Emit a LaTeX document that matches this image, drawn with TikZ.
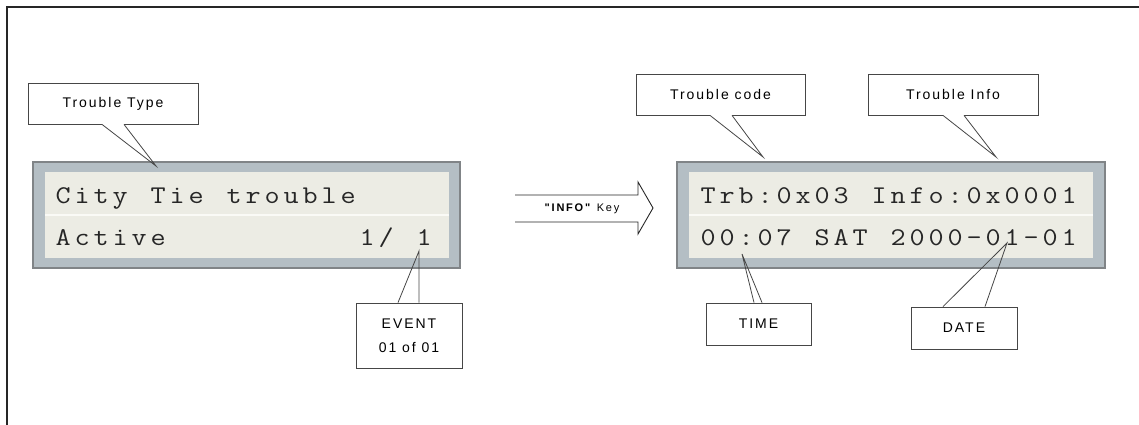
\documentclass[tikz,border=0pt]{standalone}
\usepackage{fontspec}
\newfontfamily\lcdfont[FakeStretch=1.15]{Latin Modern Mono}
\newfontfamily\tagfont[LetterSpace=14]{Liberation Sans}
\newfontfamily\keyfont[LetterSpace=16]{Liberation Sans}
\definecolor{lcdgray}{RGB}{180,190,196}
\definecolor{lcdedge}{RGB}{128,132,135}
\definecolor{lcdback}{RGB}{236,236,228}
\definecolor{lcdrule}{RGB}{250,250,246}
\definecolor{tagedge}{RGB}{70,70,70}

% one display character per fixed cell, ~ for a blank cell
\newcommand\lcdcells[1]{\lcdloop#1\relax}
\def\lcdloop#1{\ifx#1\relax\else\makebox[19pt]{#1}\expandafter\lcdloop\fi}

% pointer of a callout: node, anchor, left/right offset, tip
\newcommand\tagpointer[5]{%
  \draw[white, line width=1.6pt] ([xshift=#3pt]#1.#2) -- ([xshift=#4pt]#1.#2);
  \draw[tagline] ([xshift=#3pt]#1.#2) -- (#5) -- ([xshift=#4pt]#1.#2);
}

\begin{document}
\begin{tikzpicture}[x=1pt,y=-1pt,
  frameline/.style={line width=1.6pt, black!85},
  lcdframe/.style={draw=lcdedge, fill=lcdgray, line width=1.2pt, inner sep=0pt},
  lcdscreen/.style={fill=lcdback, inner sep=0pt},
  lcdrow/.style={anchor=base west, inner sep=0pt, text=black!85,
    font=\lcdfont\fontsize{25.5}{26}\selectfont},
  tagbox/.style={draw=tagedge, line width=0.8pt, inner sep=0pt, align=center,
    font=\tagfont\fontsize{14}{24}\selectfont},
  tagline/.style={draw=tagedge, line width=0.8pt, line join=miter},
  keyarrow/.style={draw=black!85, line width=0.9pt, line join=miter},
]
\useasboundingbox (0,0) rectangle (1139,425);

% outer frame
\draw[frameline] (1150,7) -| (7,435);

% displays
\node[lcdframe, minimum width=427pt, minimum height=106pt] (lcdA) at (246.5,215) {};
\node[lcdscreen, minimum width=404pt, minimum height=86pt] (scrA) at (247,215) {};
\draw[lcdrule, line width=1.2pt] (scrA.west) -- (scrA.east);

\node[lcdframe, minimum width=428pt, minimum height=106pt] (lcdB) at (891,215) {};
\node[lcdscreen, minimum width=404pt, minimum height=86pt] (scrB) at (891,215) {};
\draw[lcdrule, line width=1.2pt] (scrB.west) -- (scrB.east);

\node[lcdrow] (rowA1) at (53.5,203) {\lcdcells{City~Tie~trouble}};
\node[lcdrow] (rowA2) at (53.5,245) {\lcdcells{Active~~~~~~~~~~1/~1}};
\node[lcdrow] (rowB1) at (698.5,203) {\lcdcells{Trb:0x03~Info:0x0001}};
\node[lcdrow] (rowB2) at (698.5,245) {\lcdcells{00:07~SAT~2000-01-01}};

% key arrow
\draw[keyarrow] (515,195) -- (638,195) -- (638,182) -- (653,208)
  -- (638,234) -- (638,222) -- (515,222);
\node[inner sep=0pt, font=\keyfont\fontsize{11}{12}\selectfont] (infokey) at (582,209)
  {\textbf{"INFO"} Key};

% callouts
\coordinate (ptType) at (156,166);
\coordinate (ptCode) at (763,157);
\coordinate (ptInfo) at (996,157);
\coordinate (ptEvent) at (419,251);
\coordinate (ptTime) at (742,254);
\coordinate (ptDate) at (1007,243);

\node[tagbox, minimum width=170pt, minimum height=41pt] (tagType) at (113,103.5) {Trouble Type};
\node[tagbox, minimum width=169pt, minimum height=41pt] (tagCode) at (720.5,94.5) {Trouble code};
\node[tagbox, minimum width=170pt, minimum height=41pt] (tagInfo) at (953,94.5) {Trouble Info};
\node[tagbox, minimum width=106pt, minimum height=65pt] (tagEvent) at (409,335.5) {EVENT\\01 of 01};
\node[tagbox, minimum width=105pt, minimum height=42pt] (tagTime) at (758.5,324) {TIME};
\node[tagbox, minimum width=106pt, minimum height=42pt] (tagDate) at (964,328) {DATE};

\tagpointer{tagType}{south}{-11}{11}{ptType}
\tagpointer{tagCode}{south}{-10.5}{11.5}{ptCode}
\tagpointer{tagInfo}{south}{-10}{11}{ptInfo}
\tagpointer{tagEvent}{north}{-11}{10}{ptEvent}
\tagpointer{tagTime}{north}{-4.5}{3.5}{ptTime}
\tagpointer{tagDate}{north}{-21}{21}{ptDate}

\end{tikzpicture}
\end{document}
